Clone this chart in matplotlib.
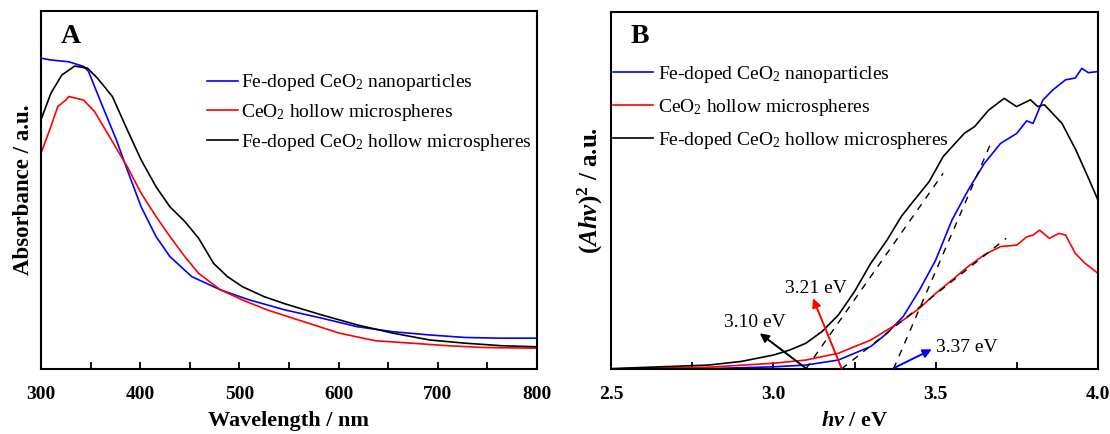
import numpy as np
import matplotlib
matplotlib.use("Agg")
import matplotlib.pyplot as plt
from matplotlib.ticker import MultipleLocator

plt.rcParams['font.family'] = ['Liberation Serif', 'DejaVu Serif']
plt.rcParams['mathtext.fontset'] = 'custom'
plt.rcParams['mathtext.rm'] = 'Liberation Serif'
plt.rcParams['mathtext.bf'] = 'Liberation Serif:bold'
plt.rcParams['mathtext.it'] = 'Liberation Serif:italic:bold'

labels = ["Fe-doped CeO$_2$ nanoparticles",
          "CeO$_2$ hollow microspheres",
          "Fe-doped CeO$_2$ hollow microspheres"]
colors = ['#0000ff', '#ff0000', '#000000']

# panel A: absorbance (a.u.) vs wavelength (nm)
wl_np = [300, 310, 328, 343, 348, 354, 365, 376, 387, 401, 416, 430, 452, 481,
         510, 546, 583, 619, 655, 692, 728, 764, 800]
ab_np = [0.868, 0.863, 0.858, 0.845, 0.831, 0.789, 0.714, 0.640, 0.556, 0.453,
         0.370, 0.314, 0.258, 0.221, 0.193, 0.165, 0.142, 0.118, 0.104, 0.095,
         0.088, 0.086, 0.086]
wl_hs = [300, 310, 317, 325, 328, 343, 354, 365, 387, 401, 416, 430, 445, 459,
         481, 503, 528, 565, 601, 637, 674, 710, 746, 800]
ab_hs = [0.602, 0.677, 0.733, 0.751, 0.761, 0.751, 0.719, 0.668, 0.565, 0.491,
         0.426, 0.370, 0.314, 0.267, 0.221, 0.193, 0.165, 0.132, 0.100, 0.079,
         0.072, 0.065, 0.060, 0.058]
wl_fhs = [300, 310, 321, 334, 347, 357, 372, 387, 401, 416, 430, 445, 459, 474,
          488, 503, 525, 546, 583, 619, 655, 692, 728, 764, 800]
ab_fhs = [0.696, 0.770, 0.821, 0.846, 0.840, 0.812, 0.761, 0.668, 0.584, 0.509,
          0.453, 0.412, 0.365, 0.295, 0.258, 0.230, 0.202, 0.182, 0.151, 0.123,
          0.100, 0.081, 0.072, 0.065, 0.062]

# panel B: (Ahv)^2 vs photon energy (eV)
ev_np = [2.5, 2.8, 3.0, 3.1, 3.2, 3.3, 3.35, 3.4, 3.45, 3.5, 3.55, 3.6, 3.65,
         3.7, 3.75, 3.78, 3.8, 3.83, 3.86, 3.9, 3.93, 3.95, 3.97, 4.0]
t_np = [0.0, 0.001, 0.006, 0.011, 0.025, 0.063, 0.100, 0.147, 0.221, 0.305,
        0.417, 0.501, 0.576, 0.632, 0.660, 0.695, 0.688, 0.753, 0.781, 0.810,
        0.815, 0.842, 0.830, 0.833]
ev_hs = [2.5, 2.8, 3.0, 3.1, 3.2, 3.3, 3.4, 3.45, 3.5, 3.55, 3.6, 3.65, 3.7,
         3.75, 3.78, 3.8, 3.82, 3.85, 3.88, 3.9, 3.93, 3.96, 4.0]
t_hs = [0.0, 0.005, 0.016, 0.025, 0.044, 0.081, 0.137, 0.170, 0.212, 0.249,
        0.287, 0.320, 0.343, 0.347, 0.370, 0.375, 0.389, 0.366, 0.380, 0.375,
        0.324, 0.296, 0.268]
ev_fhs = [2.5, 2.8, 2.9, 3.0, 3.05, 3.1, 3.15, 3.2, 3.25, 3.3, 3.35, 3.394,
          3.426, 3.48, 3.523, 3.588, 3.62, 3.663, 3.711, 3.749, 3.792, 3.814,
          3.835, 3.889, 3.932, 3.964, 4.0]
t_fhs = [0.001, 0.011, 0.021, 0.039, 0.053, 0.072, 0.105, 0.151, 0.217, 0.296,
         0.361, 0.427, 0.464, 0.525, 0.595, 0.660, 0.679, 0.725, 0.758, 0.735,
         0.754, 0.735, 0.740, 0.688, 0.613, 0.548, 0.473]

# tangent fits: band gap (x intercept), upper end of dashed line
gaps = [3.37, 3.21, 3.10]
fit_end_x = [3.674, 3.717, 3.523]
fit_end_y = [0.641, 0.366, 0.548]
gap_text = ["3.37 eV", "3.21 eV", "3.10 eV"]
text_pos = [(3.595, 0.060), (3.132, 0.226), (2.943, 0.129)]
arrow_tip = [(3.488, 0.055), (3.122, 0.198), (2.958, 0.100)]

fig = plt.figure(figsize=(11.1, 4.34), dpi=100)
axA = fig.add_axes([0.0369, 0.1498, 0.4468, 0.8250])
axB = fig.add_axes([0.5505, 0.1498, 0.4387, 0.8226])

for x, y, c, l in zip([wl_np, wl_hs, wl_fhs], [ab_np, ab_hs, ab_fhs], colors, labels):
    axA.plot(x, y, color=c, lw=1.2, label=l)
for x, y, c, l in zip([ev_np, ev_hs, ev_fhs], [t_np, t_hs, t_fhs], colors, labels):
    axB.plot(x, y, color=c, lw=1.2, label=l)

for g, ex, ey, c, s, tp, at in zip(gaps, fit_end_x, fit_end_y, colors, gap_text,
                                   text_pos, arrow_tip):
    axB.plot([g, ex], [0, ey], ls=(0, (5, 5)), color='k', lw=1.0)
    axB.annotate('', xy=at, xytext=(g, 0.002),
                 arrowprops=dict(arrowstyle='-|>', color=c, lw=1.4,
                                 mutation_scale=13, shrinkA=0, shrinkB=0))
    axB.text(tp[0], tp[1], s, fontsize=14, ha='center', va='center')

axA.set_xlim(300, 800)
axA.set_ylim(0, 1)
axA.xaxis.set_major_locator(MultipleLocator(100))
axA.xaxis.set_minor_locator(MultipleLocator(50))
axA.set_xlabel("Wavelength / nm", fontsize=16, fontweight='bold', labelpad=6)
axA.set_ylabel("Absorbance / a.u.", fontsize=16.5, fontweight='bold', labelpad=5)
axA.text(0.04, 0.93, "A", transform=axA.transAxes, fontsize=20,
         fontweight='bold', va='center')
axA.legend(loc='upper left', bbox_to_anchor=(0.32, 0.85), frameon=False,
           fontsize=14, handlelength=1.55, handletextpad=0.2, labelspacing=0.45,
           borderaxespad=0)

axB.set_xlim(2.5, 4.0)
axB.set_ylim(0, 1)
axB.xaxis.set_major_locator(MultipleLocator(0.5))
axB.xaxis.set_minor_locator(MultipleLocator(0.25))
axB.xaxis.set_major_formatter(matplotlib.ticker.FormatStrFormatter('%.1f'))
axB.set_xlabel(r"$\mathit{hv}$ / eV", fontsize=16, fontweight='bold', labelpad=6)
axB.set_ylabel(r"$\mathbf{(}\mathit{Ahv}\mathbf{)}^{\mathbf{2}}$ / a.u.",
               fontsize=18, fontweight='bold', labelpad=4)
axB.text(0.04, 0.93, "B", transform=axB.transAxes, fontsize=20,
         fontweight='bold', va='center')
axB.legend(loc='upper left', bbox_to_anchor=(-0.012, 0.877), frameon=False,
           fontsize=14, handlelength=2.06, handletextpad=0.25, labelspacing=0.63,
           borderaxespad=0)

for ax in (axA, axB):
    ax.set_yticks([])
    ax.tick_params(axis='x', which='both', direction='in', length=5, width=1.3,
                   labelsize=14, pad=12)
    for lab in ax.get_xticklabels():
        lab.set_fontweight('bold')
    for sp in ax.spines.values():
        sp.set_linewidth(1.5)

fig.savefig("out.png", dpi=100)
